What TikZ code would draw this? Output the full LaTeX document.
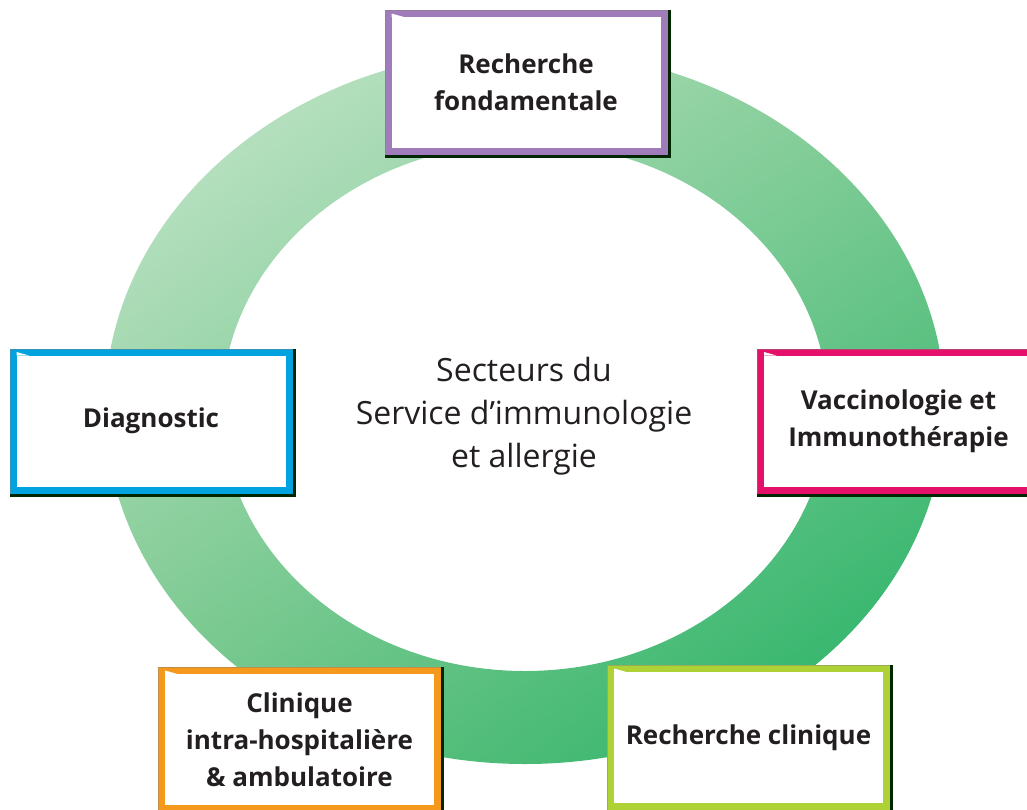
\documentclass[tikz,border=0pt]{standalone}
\usepackage{fontspec}
\setmainfont{Open Sans}
\usetikzlibrary{shadings}
\definecolor{ink}{HTML}{231F20}
\definecolor{cpurple}{HTML}{A07CBA}
\definecolor{cblue}{HTML}{00A3E0}
\definecolor{cmagenta}{HTML}{E5106A}
\definecolor{corange}{HTML}{F5991C}
\definecolor{clime}{HTML}{AED136}
\definecolor{ringul}{HTML}{CBE8D0}
\definecolor{ringur}{HTML}{84CC96}
\definecolor{ringll}{HTML}{76C68A}
\definecolor{ringlr}{HTML}{1EB062}
\tikzset{
  sector/.style={rectangle,fill=white,draw=#1,line width=7pt,outer sep=0pt,
    minimum width=276pt,minimum height=138pt,align=center,
    text=ink,font=\bfseries\fontsize{26}{37}\selectfont},
}
% dark edge on the right and bottom, light edge and notch at top left
\newcommand{\boxedges}[2]{%
  \draw[line width=3pt,black!85!green] ([xshift=5pt,yshift=3.5pt]#1.north east)
    -- ([xshift=5pt,yshift=-5pt]#1.south east) -- ([xshift=-3.5pt,yshift=-5pt]#1.south west);
  \draw[line width=1pt,#2!55!gray] ([xshift=-3pt,yshift=-3.5pt]#1.south west)
    -- ([xshift=-3pt,yshift=3pt]#1.north west) -- ([xshift=3.5pt,yshift=3pt]#1.north east);
  \fill[white] ([xshift=3.5pt,yshift=-3.5pt]#1.north west) -- ([xshift=3.5pt,yshift=0pt]#1.north west)
    -- ([xshift=16pt,yshift=-3.5pt]#1.north west) -- cycle;
}
\begin{document}
\begin{tikzpicture}[x=1pt,y=-1pt]
  \useasboundingbox (0,0) rectangle (1027,809);

  % ring
  \shade[even odd rule,upper left=ringul,upper right=ringur,
    lower left=ringll,lower right=ringlr]
    (525,407) ellipse [x radius=420,y radius=357]
    (525,407) ellipse [x radius=303,y radius=264];

  \node[text=ink,align=center,font=\fontsize{32}{43}\selectfont] (centre) at (524,416)
    {Secteurs du\\Service d’immunologie\\et allergie};

  \node[sector=cpurple] (fund) at (526,82.5) {Recherche\\fondamentale};
  \node[sector=cblue] (diag) at (151,421) {Diagnostic};
  \node[sector=cmagenta] (vacc) at (898.5,421) {Vaccinologie et\\Immunothérapie};
  \node[sector=corange] (clin) at (299.5,739.5) {Clinique\\intra-hospitalière\\\& ambulatoire};
  \node[sector=clime] (rclin) at (748.5,737.5) {Recherche clinique};

  \boxedges{fund}{cpurple}
  \boxedges{diag}{cblue}
  \boxedges{vacc}{cmagenta}
  \boxedges{clin}{corange}
  \boxedges{rclin}{clime}
\end{tikzpicture}
\end{document}
